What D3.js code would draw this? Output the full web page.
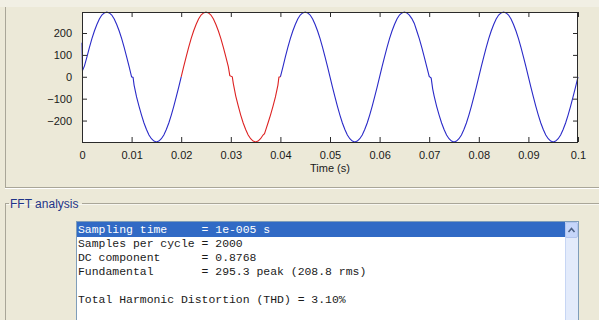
<!DOCTYPE html>
<html>
<head>
<meta charset="utf-8">
<script src="https://cdn.jsdelivr.net/npm/d3@7"></script>
<style>
  html, body { margin: 0; padding: 0; background: #ece9d8; }
  svg { display: block; }
  .tick text { font-family: "Liberation Sans", Arial, sans-serif; font-size: 11px; fill: #1a1a1a; }
  .mono { font-family: "Liberation Mono", "Courier New", monospace; font-size: 11.45px; white-space: pre; }
</style>
</head>
<body>
<svg id="fig" width="599" height="320"></svg>
<script>
// Simulated voltage waveform (time in ms, value in V)
const timeMs = [
  0, 0.1, 0.5, 1, 1.5, 2, 2.5, 3, 3.5, 4, 4.5, 5, 5.5, 6, 6.5, 7, 7.5, 8, 8.5, 9, 9.5, 10,
  10.3, 10.5, 11, 11.5, 12, 12.5, 13, 13.5, 14, 14.5, 15, 15.5, 16, 16.5, 17, 17.5, 18, 18.5, 19, 19.5, 20,
  20.5, 21, 21.5, 22, 22.5, 23, 23.5, 24, 24.5, 25, 25.5, 26, 26.5, 27, 27.5, 28, 28.5, 29, 29.5, 29.8, 30.3,
  30.5, 31, 31.5, 32, 32.5, 33, 33.5, 34, 34.5, 35, 35.5, 36, 36.5, 36.8, 37, 37.5, 38, 38.5, 39, 39.5, 39.7, 40,
  40.5, 41, 41.5, 42, 42.5, 43, 43.5, 44, 44.5, 45, 45.5, 46, 46.5, 47, 47.5, 48, 48.5, 49, 49.5, 50,
  50.5, 51, 51.5, 52, 52.5, 53, 53.5, 54, 54.5, 55, 55.5, 56, 56.5, 57, 57.5, 58, 58.5, 59, 59.5, 60,
  60.5, 61, 61.5, 62, 62.5, 63, 63.5, 64, 64.5, 65, 65.5, 66, 66.5, 67, 67.5, 68, 68.5, 69, 69.5, 70,
  70.4, 70.7, 71, 71.5, 72, 72.5, 73, 73.5, 74, 74.5, 75, 75.5, 76, 76.5, 77, 77.5, 78, 78.5, 79, 79.5, 80,
  80.5, 81, 81.5, 82, 82.5, 83, 83.5, 84, 84.5, 85, 85.5, 86, 86.5, 87, 87.5, 88, 88.5, 89, 89.5, 90,
  90.5, 91, 91.5, 92, 92.5, 93, 93.5, 94, 94.5, 95, 95.5, 96, 96.5, 97, 97.5, 98, 98.5, 99, 99.5, 100
];
const voltage = [
  155, 28, 50, 91, 134, 174, 209, 239, 264, 282, 292, 296, 292, 282, 264, 239, 209, 174, 134, 91, 46, 0,
  -3, -38, -92, -135, -175, -211, -241, -266, -283, -294, -298, -294, -283, -266, -241, -211, -175, -135, -92, -47, 0,
  46, 91, 134, 174, 209, 239, 264, 282, 292, 296, 292, 282, 264, 239, 209, 174, 134, 91, 46, 5, 0,
  -30, -88, -133, -175, -211, -241, -266, -283, -294, -298, -294, -283, -266, -260, -246, -211, -175, -135, -92, -38, -2, 0,
  44, 91, 134, 174, 209, 239, 264, 282, 292, 296, 292, 282, 264, 239, 209, 174, 134, 91, 46, 0,
  -47, -92, -135, -175, -211, -241, -266, -283, -294, -298, -294, -283, -266, -241, -211, -175, -135, -92, -47, 0,
  46, 91, 134, 174, 209, 239, 264, 282, 292, 296, 292, 282, 266, 244, 209, 174, 134, 91, 46, 2,
  -6, -55, -88, -135, -175, -211, -241, -266, -283, -294, -298, -294, -283, -266, -241, -211, -175, -135, -92, -47, 0,
  46, 91, 134, 174, 209, 239, 264, 282, 292, 296, 292, 282, 264, 239, 209, 174, 134, 91, 46, 0,
  -47, -92, -135, -175, -211, -241, -266, -283, -294, -298, -294, -283, -266, -241, -211, -175, -135, -92, -47, 0
];
// FFT window (one cycle), in ms
const fftWindow = [20, 40];

const xTicks = [0, 0.01, 0.02, 0.03, 0.04, 0.05, 0.06, 0.07, 0.08, 0.09, 0.1];
const yTicks = [-200, -100, 0, 100, 200];
const xLabel = "Time (s)";
const groupTitle = "FFT analysis";
const reportLines = [
  "Sampling time     = 1e-005 s",
  "Samples per cycle = 2000",
  "DC component      = 0.8768",
  "Fundamental       = 295.3 peak (208.8 rms)",
  "",
  "Total Harmonic Distortion (THD) = 3.10%"
];

const svg = d3.select("#fig");
const W = 599, H = 320;

// window background
svg.append("rect").attr("width", W).attr("height", H).attr("fill", "#ece9d8");
svg.append("rect").attr("width", W).attr("height", 7).attr("fill", "#f1efe4");

// upper panel frame
svg.append("line").attr("x1", 5.5).attr("x2", 5.5).attr("y1", 7).attr("y2", 187).attr("stroke", "#a9a698");
svg.append("line").attr("x1", 5).attr("x2", W).attr("y1", 187.5).attr("y2", 187.5).attr("stroke", "#a9a698");
svg.append("line").attr("x1", 5).attr("x2", W).attr("y1", 188.5).attr("y2", 188.5).attr("stroke", "#ffffff");

// plot area
const m = { left: 82, right: 578, top: 12, bottom: 142 };
const x = d3.scaleLinear().domain([0, 0.1]).range([m.left, m.right]);
const y = d3.scaleLinear().domain(d3.extent(voltage)).range([m.bottom, m.top]);

svg.append("rect")
  .attr("x", m.left).attr("y", m.top)
  .attr("width", m.right - m.left).attr("height", m.bottom - m.top)
  .attr("fill", "#ffffff");

const points = timeMs.map((t, i) => ({ ms: t, t: t / 1000, v: voltage[i] }));
const line = d3.line().x(d => x(d.t)).y(d => y(d.v));

// waveform: blue outside the FFT window, red inside it
const segments = [
  { pts: points.filter(d => d.ms <= fftWindow[0]), color: "#2a2ac8" },
  { pts: points.filter(d => d.ms >= fftWindow[1]), color: "#2a2ac8" },
  { pts: points.filter(d => d.ms >= fftWindow[0] && d.ms <= fftWindow[1]), color: "#dd2222" }
];
svg.append("g").selectAll("path")
  .data(segments)
  .join("path")
  .attr("d", d => line(d.pts))
  .attr("fill", "none")
  .attr("stroke", d => d.color)
  .attr("stroke-width", 1.1);

const fmtX = d => d === 0 ? "0" : String(+d.toFixed(2));
const axisColor = "#2a2a2a";

function styleAxis(g) {
  g.select(".domain").remove();
  g.selectAll(".tick line").attr("stroke", axisColor);
}

svg.append("g").attr("transform", `translate(0,${m.bottom})`)
  .call(d3.axisBottom(x).tickValues(xTicks).tickSize(-5).tickPadding(9).tickFormat(fmtX))
  .call(styleAxis);
svg.append("g").attr("transform", `translate(0,${m.top})`)
  .call(d3.axisTop(x).tickValues(xTicks).tickSize(-5).tickFormat(""))
  .call(styleAxis);
svg.append("g").attr("transform", `translate(${m.left},0)`)
  .call(d3.axisLeft(y).tickValues(yTicks).tickSize(-5).tickPadding(10))
  .call(styleAxis);
svg.append("g").attr("transform", `translate(${m.right},0)`)
  .call(d3.axisRight(y).tickValues(yTicks).tickSize(-5).tickFormat(""))
  .call(styleAxis);

svg.append("rect")
  .attr("x", m.left + 0.5).attr("y", m.top + 0.5)
  .attr("width", m.right - m.left - 1).attr("height", m.bottom - m.top)
  .attr("fill", "none").attr("stroke", axisColor);

svg.append("text")
  .attr("x", (m.left + m.right) / 2).attr("y", 172)
  .attr("text-anchor", "middle")
  .attr("font-family", "Liberation Sans, Arial, sans-serif")
  .attr("font-size", 11).attr("fill", "#1a1a1a")
  .text(xLabel);

// FFT analysis group box
const gbY = 203.5;
svg.append("line").attr("x1", 5).attr("x2", 9).attr("y1", gbY).attr("y2", gbY).attr("stroke", "#a9a698");
svg.append("line").attr("x1", 82).attr("x2", W).attr("y1", gbY).attr("y2", gbY).attr("stroke", "#a9a698");
svg.append("line").attr("x1", 5).attr("x2", W).attr("y1", gbY + 1).attr("y2", gbY + 1).attr("stroke", "#ffffff").attr("opacity", 0.6);
svg.append("line").attr("x1", 5.5).attr("x2", 5.5).attr("y1", gbY).attr("y2", H).attr("stroke", "#a9a698");
svg.append("text")
  .attr("x", 10).attr("y", 207.5)
  .attr("font-family", "Liberation Sans, Arial, sans-serif")
  .attr("font-size", 12).attr("fill", "#1f3488")
  .text(groupTitle);

// report list box
const lb = { x: 76, y: 221, w: 503, rowH: 14 };
svg.append("rect")
  .attr("x", lb.x + 0.5).attr("y", lb.y + 0.5)
  .attr("width", lb.w - 1).attr("height", H - lb.y + 5)
  .attr("fill", "#ffffff").attr("stroke", "#7f9db9");

const sbX = 565, sbW = 13;
svg.append("rect").attr("x", lb.x + 1).attr("y", lb.y + 1)
  .attr("width", sbX - lb.x - 1).attr("height", 15).attr("fill", "#316ac5");

// scroll bar
svg.append("rect").attr("x", sbX).attr("y", lb.y + 1).attr("width", sbW).attr("height", H - lb.y)
  .attr("fill", "#e3ebfb");
svg.append("line").attr("x1", sbX + 0.5).attr("x2", sbX + 0.5).attr("y1", lb.y + 1).attr("y2", H)
  .attr("stroke", "#c7d6f4");
svg.append("rect").attr("x", sbX + 0.5).attr("y", lb.y + 1.5).attr("width", sbW - 1).attr("height", 15)
  .attr("fill", "#c6d6fa").attr("stroke", "#b2c5ee").attr("rx", 1.5);
svg.append("path")
  .attr("d", `M${sbX + 3.5},${lb.y + 11} L${sbX + 6.5},${lb.y + 7.5} L${sbX + 9.5},${lb.y + 11}`)
  .attr("fill", "none").attr("stroke", "#4d6185").attr("stroke-width", 1.6);

svg.append("g").selectAll("text")
  .data(reportLines)
  .join("text")
  .attr("class", "mono")
  .attr("x", 78)
  .attr("y", (d, i) => 233 + i * lb.rowH)
  .attr("fill", (d, i) => i === 0 ? "#ffffff" : "#1a1a1a")
  .text(d => d);
</script>
</body>
</html>
